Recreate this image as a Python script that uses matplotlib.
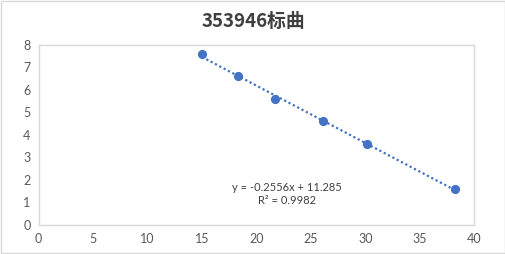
import numpy as np
import matplotlib
matplotlib.use("Agg")
import matplotlib.pyplot as plt
from matplotlib.patches import Rectangle

plt.rcParams['font.family'] = ['Lato', 'Noto Sans CJK SC', 'DejaVu Sans']

# ── Données ───────────────────────────────────────────────────────────────────
x_vals = [15.0, 18.3, 21.75, 26.1, 30.2, 38.2]
y_vals = [7.6, 6.6, 5.6, 4.6, 3.6, 1.6]
title = "353946标曲"
eq_text = "y = -0.2556x + 11.285\nR² = 0.9982"

BLUE = "#4472C4"
GRID = "#D9D9D9"
TXT = "#595959"

fig = plt.figure(figsize=(5.06, 2.54), dpi=100)
ax = fig.add_axes([0.0765, 0.1154, 0.8605, 0.7076])

# courbe de tendance (régression linéaire sur les points)
a, b = np.polyfit(x_vals, y_vals, 1)
xt = np.array([min(x_vals), max(x_vals)])
ax.plot(xt, a * xt + b, ls=(0, (1, 1.2)), lw=1.6, color=BLUE, zorder=2)
ax.plot(x_vals, y_vals, "o", ms=5.6, color=BLUE, zorder=3)

ax.set_xlim(0, 40)
ax.set_ylim(0, 8)
ax.set_xticks(range(0, 41, 5))
ax.set_yticks(range(0, 9))
ax.tick_params(length=0, labelsize=9, colors=TXT, pad=6)
for s in ax.spines.values():
    s.set_color(GRID)
    s.set_linewidth(1)

ax.text(22.8, 1.37, eq_text, ha="center", va="center", fontsize=8,
        color="#404040", linespacing=1.3)

fig.text(0.5, 0.915, title, ha="center", va="center", fontsize=13.5,
         fontweight="bold", color="#404040",
         family=['Noto Sans CJK SC', 'DejaVu Sans'])

fig.patches.append(Rectangle((0.001, 0.002), 0.997, 0.995, transform=fig.transFigure,
                             fill=False, edgecolor=GRID, lw=1))

fig.savefig("out.png", dpi=100)
